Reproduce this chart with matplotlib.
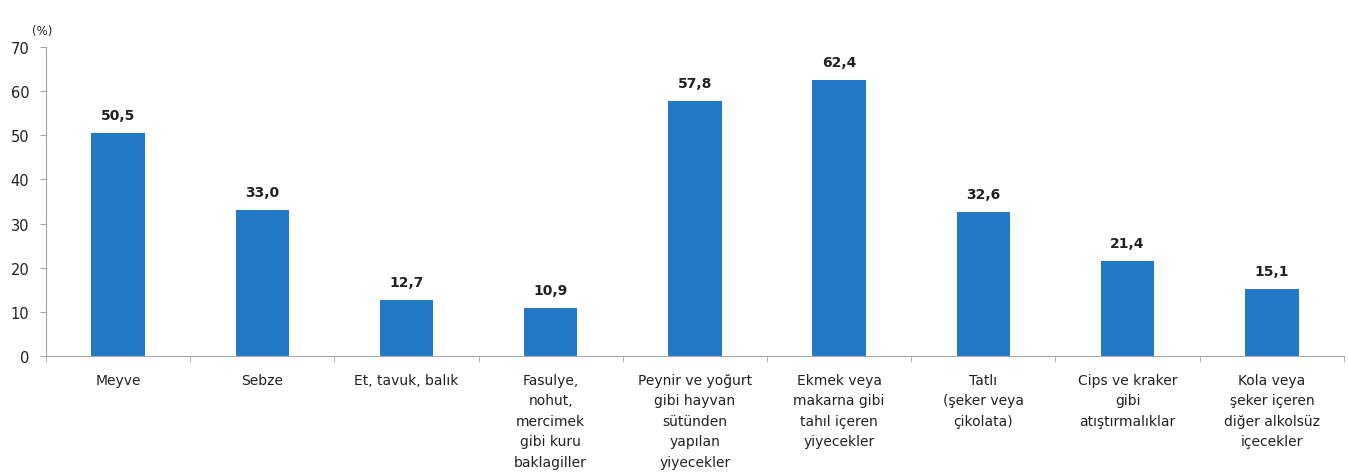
import matplotlib
matplotlib.use("Agg")

import matplotlib.pyplot as plt

categories = [
    "Meyve",
    "Sebze",
    "Et, tavuk, balık",
    "Fasulye,\nnohut,\nmercimek\ngibi kuru\nbaklagiller",
    "Peynir ve yoğurt\ngibi hayvan\nsütünden\nyapılan\nyiyecekler",
    "Ekmek veya\nmakarna gibi\ntahıl içeren\nyiyecekler",
    "Tatlı\n(şeker veya\nçikolata)",
    "Cips ve kraker\ngibi\natıştırmalıklar",
    "Kola veya\nşeker içeren\ndiğer alkolsüz\niçecekler",
]
values = [50.5, 33.0, 12.7, 10.9, 57.8, 62.4, 32.6, 21.4, 15.1]
y_ticks = [0, 10, 20, 30, 40, 50, 60, 70]

plt.rcParams["font.family"] = ["DejaVu Sans"]
plt.rcParams["font.size"] = 10

bar_color = "#2479c6"
text_color = "#222222"
axis_color = "#a6a6a6"

fig = plt.figure(figsize=(13.48, 4.77), dpi=100)
ax = fig.add_axes([0.034, 0.2516, 0.963, 0.648])

x = list(range(len(categories)))
bars = ax.bar(x, values, width=0.37, color=bar_color, zorder=2)

for rect, v in zip(bars, values):
    ax.annotate(
        f"{v:.1f}".replace(".", ","),
        (rect.get_x() + rect.get_width() / 2, v),
        xytext=(0, 8),
        textcoords="offset points",
        ha="center",
        va="bottom",
        fontsize=10,
        fontweight="bold",
        color=text_color,
    )

ax.set_xlim(-0.5, len(categories) - 0.5)
ax.set_ylim(0, 70)
ax.set_yticks(y_ticks)
ax.set_yticklabels([str(t) for t in y_ticks], color=text_color, fontsize=10.5)

# category labels at bar centres, tick marks at the boundaries
ax.set_xticks(x)
ax.set_xticklabels(categories, color=text_color, fontsize=10, linespacing=1.6, va="top")
ax.tick_params(axis="x", length=0, pad=12)
ax.set_xticks([i - 0.5 for i in range(len(categories) + 1)], minor=True)
ax.tick_params(axis="x", which="minor", length=4, color=axis_color, direction="out")
ax.tick_params(axis="y", length=4, color=axis_color, direction="out", pad=8)

for side in ["top", "right"]:
    ax.spines[side].set_visible(False)
ax.spines["left"].set_color(axis_color)
ax.spines["bottom"].set_color(axis_color)

fig.text(0.024, 0.935, "(%)", fontsize=8.5, color=text_color, ha="left", va="center")

fig.savefig("out.png", dpi=100, facecolor="white")
